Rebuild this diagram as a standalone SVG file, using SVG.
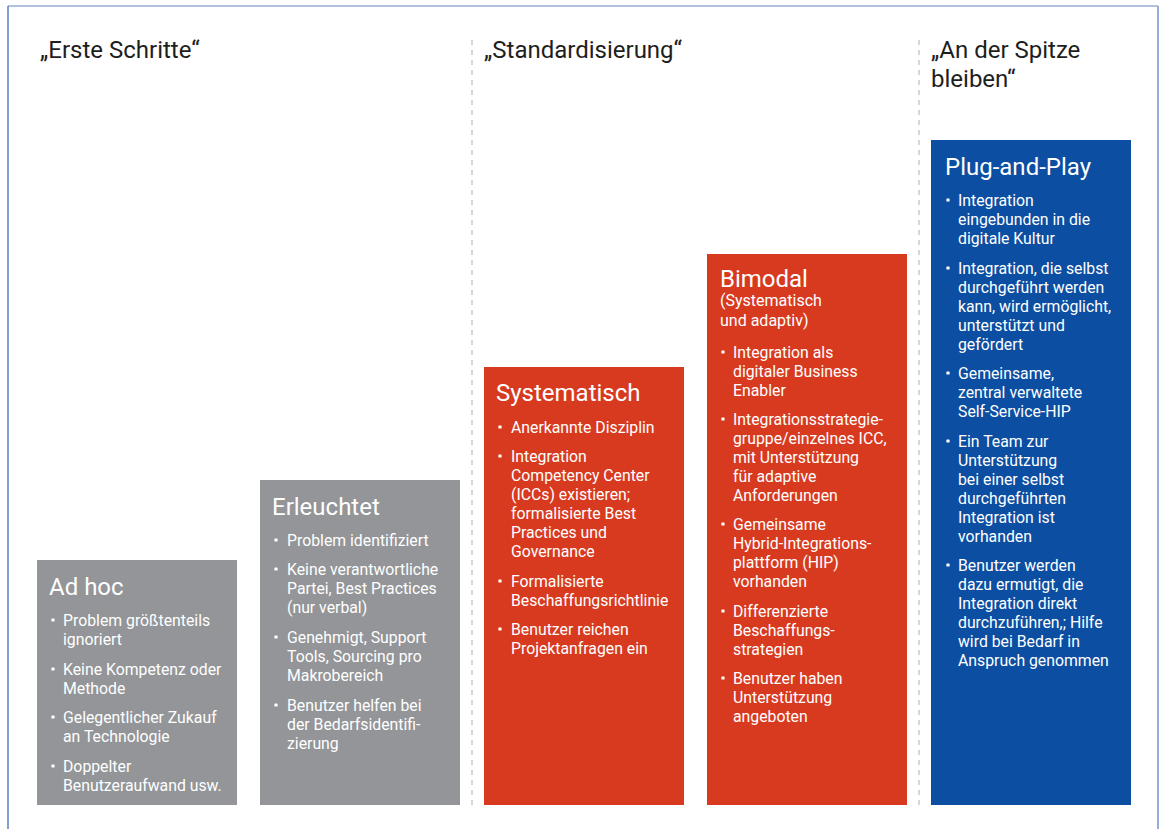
<svg xmlns="http://www.w3.org/2000/svg" width="1160" height="829" viewBox="0 0 1160 829">
  <style>
    .hdr { font-family: Roboto, "Liberation Sans", sans-serif; font-size: 24px; fill: #1e1e1e; }
    .ttl { font-family: Roboto, "Liberation Sans", sans-serif; font-size: 24px; fill: #ffffff; }
    .sub { font-family: Roboto, "Liberation Sans", sans-serif; font-size: 16px; fill: #ffffff; }
    .txt { font-family: Roboto, "Liberation Sans", sans-serif; font-size: 15.8px; fill: #ffffff; }
    .dot { fill: #ffffff; }
    .gray { fill: #939598; }
    .red { fill: #d83a20; }
    .blue { fill: #0b4ea2; }
    .sep { stroke: #bdbdbd; stroke-width: 1.2; stroke-dasharray: 5 5; }
  </style>
  <defs>
    <rect id="b" class="dot" x="-1.6" y="-1.6" width="3.2" height="3.2" rx="0.6"/>
  </defs>

  <rect width="1160" height="829" fill="#ffffff"/>

  <!-- outer frame -->
  <g id="frame" fill="none">
    <line x1="8" y1="6" x2="1158" y2="6" stroke="#97acd8" stroke-width="1.5"/>
    <line x1="8" y1="6" x2="8" y2="829" stroke="#5a7ec6" stroke-width="1.5"/>
    <line x1="1158" y1="6" x2="1158" y2="829" stroke="#97acd8" stroke-width="2"/>
  </g>

  <!-- column separators -->
  <g id="separators">
    <line class="sep" x1="472" y1="40" x2="472" y2="805"/>
    <line class="sep" x1="919" y1="40" x2="919" y2="805"/>
  </g>

  <!-- phase headings -->
  <g id="headers">
    <text class="hdr" x="40" y="58">„Erste Schritte“</text>
    <text class="hdr" x="484" y="58">„Standardisierung“</text>
    <text class="hdr" x="931" y="58">„An der Spitze</text>
    <text class="hdr" x="931" y="87">bleiben“</text>
  </g>

  <!-- level 1 -->
  <g id="adhoc">
    <rect class="gray" x="37" y="560" width="200" height="245"/>
    <text class="ttl" x="49" y="595">Ad hoc</text>
    <use href="#b" x="53" y="620"/>
    <text class="txt" x="63" y="626">Problem größtenteils</text>
    <text class="txt" x="63" y="645">ignoriert</text>
    <use href="#b" x="53" y="669"/>
    <text class="txt" x="63" y="675">Keine Kompetenz oder</text>
    <text class="txt" x="63" y="694">Methode</text>
    <use href="#b" x="53" y="717"/>
    <text class="txt" x="63" y="723">Gelegentlicher Zukauf</text>
    <text class="txt" x="63" y="742">an Technologie</text>
    <use href="#b" x="53" y="766"/>
    <text class="txt" x="63" y="772">Doppelter</text>
    <text class="txt" x="63" y="791">Benutzeraufwand usw.</text>
  </g>

  <!-- level 2 -->
  <g id="erleuchtet">
    <rect class="gray" x="260" y="480" width="200" height="325"/>
    <text class="ttl" x="272" y="515">Erleuchtet</text>
    <use href="#b" x="276" y="540"/>
    <text class="txt" x="287" y="546">Problem identifiziert</text>
    <use href="#b" x="276" y="569"/>
    <text class="txt" x="287" y="575">Keine verantwortliche</text>
    <text class="txt" x="287" y="594">Partei, Best Practices</text>
    <text class="txt" x="287" y="613">(nur verbal)</text>
    <use href="#b" x="276" y="637"/>
    <text class="txt" x="287" y="643">Genehmigt, Support</text>
    <text class="txt" x="287" y="662">Tools, Sourcing pro</text>
    <text class="txt" x="287" y="681">Makrobereich</text>
    <use href="#b" x="276" y="705"/>
    <text class="txt" x="287" y="711">Benutzer helfen bei</text>
    <text class="txt" x="287" y="730">der Bedarfsidentifi-</text>
    <text class="txt" x="287" y="749">zierung</text>
  </g>

  <!-- level 3 -->
  <g id="systematisch">
    <rect class="red" x="484" y="367" width="200" height="438"/>
    <text class="ttl" x="496" y="401">Systematisch</text>
    <use href="#b" x="500" y="427"/>
    <text class="txt" x="511" y="433">Anerkannte Disziplin</text>
    <use href="#b" x="500" y="456"/>
    <text class="txt" x="511" y="462">Integration</text>
    <text class="txt" x="511" y="481">Competency Center</text>
    <text class="txt" x="511" y="500">(ICCs) existieren;</text>
    <text class="txt" x="511" y="519">formalisierte Best</text>
    <text class="txt" x="511" y="538">Practices und</text>
    <text class="txt" x="511" y="557">Governance</text>
    <use href="#b" x="500" y="581"/>
    <text class="txt" x="511" y="587">Formalisierte</text>
    <text class="txt" x="511" y="606">Beschaffungsrichtlinie</text>
    <use href="#b" x="500" y="629"/>
    <text class="txt" x="511" y="635">Benutzer reichen</text>
    <text class="txt" x="511" y="654">Projektanfragen ein</text>
  </g>

  <!-- level 4 -->
  <g id="bimodal">
    <rect class="red" x="707" y="254" width="200" height="551"/>
    <text class="ttl" x="720" y="287">Bimodal</text>
    <text class="sub" x="720" y="306">(Systematisch</text>
    <text class="sub" x="720" y="326">und adaptiv)</text>
    <use href="#b" x="723" y="352"/>
    <text class="txt" x="733" y="358">Integration als</text>
    <text class="txt" x="733" y="377">digitaler Business</text>
    <text class="txt" x="733" y="396">Enabler</text>
    <use href="#b" x="723" y="419"/>
    <text class="txt" x="733" y="425">Integrationsstrategie-</text>
    <text class="txt" x="733" y="444">gruppe/einzelnes ICC,</text>
    <text class="txt" x="733" y="463">mit Unterstützung</text>
    <text class="txt" x="733" y="482">für adaptive</text>
    <text class="txt" x="733" y="501">Anforderungen</text>
    <use href="#b" x="723" y="524"/>
    <text class="txt" x="733" y="530">Gemeinsame</text>
    <text class="txt" x="733" y="549">Hybrid-Integrations-</text>
    <text class="txt" x="733" y="568">plattform (HIP)</text>
    <text class="txt" x="733" y="587">vorhanden</text>
    <use href="#b" x="723" y="611"/>
    <text class="txt" x="733" y="617">Differenzierte</text>
    <text class="txt" x="733" y="636">Beschaffungs-</text>
    <text class="txt" x="733" y="655">strategien</text>
    <use href="#b" x="723" y="678"/>
    <text class="txt" x="733" y="684">Benutzer haben</text>
    <text class="txt" x="733" y="703">Unterstützung</text>
    <text class="txt" x="733" y="722">angeboten</text>
  </g>

  <!-- level 5 -->
  <g id="plugandplay">
    <rect class="blue" x="931" y="140" width="200" height="665"/>
    <text class="ttl" x="945" y="175">Plug-and-Play</text>
    <use href="#b" x="948" y="200"/>
    <text class="txt" x="958" y="206">Integration</text>
    <text class="txt" x="958" y="225">eingebunden in die</text>
    <text class="txt" x="958" y="244">digitale Kultur</text>
    <use href="#b" x="948" y="268"/>
    <text class="txt" x="958" y="274">Integration, die selbst</text>
    <text class="txt" x="958" y="293">durchgeführt werden</text>
    <text class="txt" x="958" y="312">kann, wird ermöglicht,</text>
    <text class="txt" x="958" y="331">unterstützt und</text>
    <text class="txt" x="958" y="350">gefördert</text>
    <use href="#b" x="948" y="373"/>
    <text class="txt" x="958" y="379">Gemeinsame,</text>
    <text class="txt" x="958" y="398">zentral verwaltete</text>
    <text class="txt" x="958" y="417">Self-Service-HIP</text>
    <use href="#b" x="948" y="441"/>
    <text class="txt" x="958" y="447">Ein Team zur</text>
    <text class="txt" x="958" y="466">Unterstützung</text>
    <text class="txt" x="958" y="485">bei einer selbst</text>
    <text class="txt" x="958" y="504">durchgeführten</text>
    <text class="txt" x="958" y="523">Integration ist</text>
    <text class="txt" x="958" y="542">vorhanden</text>
    <use href="#b" x="948" y="565"/>
    <text class="txt" x="958" y="571">Benutzer werden</text>
    <text class="txt" x="958" y="590">dazu ermutigt, die</text>
    <text class="txt" x="958" y="609">Integration direkt</text>
    <text class="txt" x="958" y="628">durchzuführen,; Hilfe</text>
    <text class="txt" x="958" y="647">wird bei Bedarf in</text>
    <text class="txt" x="958" y="666">Anspruch genommen</text>
  </g>
</svg>
